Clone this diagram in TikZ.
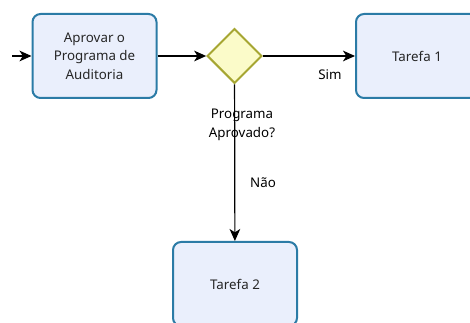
\documentclass[tikz,border=0pt]{standalone}
\usepackage{fontspec}
\setmainfont{Noto Sans}
\usetikzlibrary{arrows.meta,shapes.geometric}

\definecolor{taskfill}{HTML}{EAEFFC}
\definecolor{taskdraw}{HTML}{2B7BA6}
\definecolor{gatefill}{HTML}{FBFBC9}
\definecolor{gatedraw}{HTML}{A6A632}

\begin{document}
\begin{tikzpicture}[x=0.75pt,y=-0.75pt,
		font=\fontsize{10}{14}\selectfont,
		task/.style={draw=taskdraw, fill=taskfill, line width=1.5pt, rounded corners=6pt,
			minimum width=93pt, minimum height=63pt, align=center, text=black!85},
		gate/.style={diamond, draw=gatedraw, fill=gatefill, line width=1.5pt,
			minimum size=41pt, inner sep=0pt},
		flow/.style={-{Stealth[length=9pt,width=8pt,inset=2.5pt]}, line width=0.9pt}]
		
		\useasboundingbox (0,0) rectangle (470,323);
		
		\coordinate (0) at (12,56);
		\node[task] (1) at (94.5,56) {Aprovar o\\Programa de\\Auditoria};
		\node[gate] (2) at (234.5,56) {};
		\node[task, minimum width=91.5pt] (3) at (417,56) {Tarefa 1};
		\node[task] (4) at (235,284) {Tarefa 2};
		
		\node[align=center] (5) at (242,125) {Programa\\Aprovado?};
		\node (6) at (330,75) {Sim};
		\node (7) at (263,183) {Não};
		
		\draw [flow] (0) -- (1);
		\draw [flow] (1) -- (2);
		\draw [flow] (2) -- (3);
		\draw [flow] (2) -- (4);
	
		\end{tikzpicture}
\end{document}
